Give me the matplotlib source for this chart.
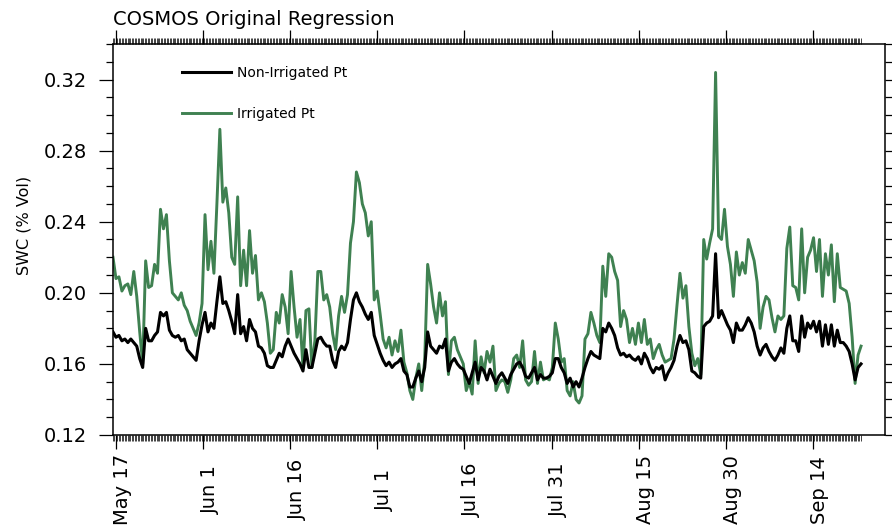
import matplotlib
matplotlib.use('Agg')
import matplotlib.pyplot as plt
import matplotlib.transforms as mtransforms
import numpy as np
import pandas as pd

# soil water content, about two readings per day
irrigated = [
    0.220, 0.208, 0.209, 0.201, 0.204, 0.205, 0.199, 0.212, 0.198, 0.178,
    0.160, 0.218, 0.203, 0.204, 0.216, 0.211, 0.247, 0.236, 0.244, 0.218,
    0.200, 0.198, 0.196, 0.200, 0.193, 0.190, 0.184, 0.180, 0.176, 0.183,
    0.194, 0.244, 0.213, 0.229, 0.211, 0.250, 0.292, 0.251, 0.259, 0.245,
    0.220, 0.216, 0.254, 0.204, 0.224, 0.204, 0.235, 0.211, 0.221, 0.196,
    0.200, 0.195, 0.183, 0.166, 0.168, 0.189, 0.183, 0.199, 0.192, 0.177,
    0.212, 0.192, 0.175, 0.185, 0.158, 0.190, 0.191, 0.158, 0.173, 0.212,
    0.212, 0.196, 0.199, 0.192, 0.177, 0.168, 0.187, 0.198, 0.189, 0.199,
    0.228, 0.240, 0.268, 0.262, 0.250, 0.245, 0.232, 0.240, 0.196, 0.201,
    0.188, 0.174, 0.169, 0.175, 0.165, 0.173, 0.167, 0.179, 0.161, 0.155,
    0.145, 0.140, 0.152, 0.160, 0.145, 0.162, 0.216, 0.205, 0.192, 0.183,
    0.200, 0.187, 0.195, 0.154, 0.173, 0.175, 0.168, 0.164, 0.160, 0.145,
    0.150, 0.143, 0.173, 0.149, 0.164, 0.155, 0.167, 0.161, 0.170, 0.145,
    0.149, 0.151, 0.150, 0.144, 0.151, 0.163, 0.165, 0.158, 0.173, 0.151,
    0.148, 0.150, 0.167, 0.149, 0.161, 0.151, 0.152, 0.151, 0.158, 0.183,
    0.174, 0.161, 0.163, 0.145, 0.142, 0.150, 0.140, 0.138, 0.142, 0.174,
    0.177, 0.189, 0.183, 0.176, 0.172, 0.215, 0.198, 0.222, 0.220, 0.212,
    0.207, 0.181, 0.190, 0.185, 0.172, 0.180, 0.171, 0.183, 0.172, 0.185,
    0.171, 0.174, 0.163, 0.168, 0.171, 0.165, 0.161, 0.162, 0.163, 0.174,
    0.193, 0.211, 0.197, 0.204, 0.181, 0.166, 0.159, 0.163, 0.154, 0.230,
    0.219, 0.228, 0.236, 0.324, 0.232, 0.230, 0.247, 0.226, 0.216, 0.198,
    0.223, 0.210, 0.217, 0.211, 0.230, 0.224, 0.218, 0.206, 0.180, 0.192,
    0.198, 0.196, 0.186, 0.178, 0.187, 0.185, 0.187, 0.225, 0.237, 0.204,
    0.203, 0.196, 0.236, 0.200, 0.220, 0.224, 0.231, 0.212, 0.230, 0.198,
    0.222, 0.210, 0.227, 0.195, 0.222, 0.203, 0.202, 0.201, 0.194, 0.175,
    0.149, 0.165, 0.170,
]

non_irrigated = [
    0.178, 0.175, 0.176, 0.173, 0.174, 0.172, 0.174, 0.172, 0.170, 0.163,
    0.158, 0.180, 0.173, 0.173, 0.176, 0.178, 0.189, 0.187, 0.189, 0.179,
    0.176, 0.175, 0.176, 0.173, 0.174, 0.168, 0.166, 0.164, 0.162, 0.173,
    0.182, 0.189, 0.178, 0.183, 0.180, 0.195, 0.209, 0.194, 0.195, 0.190,
    0.184, 0.177, 0.199, 0.177, 0.181, 0.173, 0.185, 0.180, 0.178, 0.170,
    0.169, 0.166, 0.159, 0.158, 0.158, 0.162, 0.166, 0.164, 0.170, 0.174,
    0.170, 0.166, 0.163, 0.160, 0.156, 0.168, 0.158, 0.158, 0.166, 0.174,
    0.175, 0.172, 0.170, 0.170, 0.162, 0.158, 0.167, 0.170, 0.168, 0.172,
    0.185, 0.196, 0.200, 0.195, 0.192, 0.188, 0.185, 0.189, 0.176, 0.171,
    0.166, 0.162, 0.159, 0.161, 0.158, 0.160, 0.161, 0.163, 0.156, 0.154,
    0.147, 0.147, 0.152, 0.156, 0.150, 0.158, 0.178, 0.170, 0.168, 0.166,
    0.170, 0.169, 0.174, 0.156, 0.161, 0.163, 0.160, 0.158, 0.157, 0.153,
    0.149, 0.155, 0.161, 0.151, 0.158, 0.156, 0.151, 0.157, 0.153, 0.149,
    0.153, 0.155, 0.152, 0.149, 0.154, 0.157, 0.160, 0.161, 0.158, 0.153,
    0.152, 0.155, 0.158, 0.151, 0.154, 0.152, 0.152, 0.153, 0.155, 0.163,
    0.163, 0.158, 0.155, 0.149, 0.152, 0.147, 0.150, 0.147, 0.152, 0.158,
    0.163, 0.167, 0.165, 0.164, 0.163, 0.180, 0.178, 0.183, 0.180, 0.176,
    0.169, 0.165, 0.166, 0.164, 0.165, 0.163, 0.162, 0.164, 0.160, 0.166,
    0.163, 0.158, 0.155, 0.158, 0.157, 0.159, 0.151, 0.155, 0.158, 0.162,
    0.170, 0.176, 0.172, 0.173, 0.168, 0.156, 0.155, 0.153, 0.152, 0.181,
    0.183, 0.184, 0.187, 0.222, 0.186, 0.190, 0.186, 0.182, 0.179, 0.172,
    0.183, 0.179, 0.179, 0.182, 0.186, 0.183, 0.178, 0.170, 0.165, 0.169,
    0.171, 0.167, 0.164, 0.162, 0.165, 0.169, 0.166, 0.180, 0.187, 0.173,
    0.173, 0.167, 0.187, 0.175, 0.183, 0.180, 0.184, 0.178, 0.184, 0.170,
    0.182, 0.171, 0.182, 0.170, 0.179, 0.172, 0.172, 0.170, 0.167, 0.160,
    0.151, 0.158, 0.160,
]

start = '2012-05-16 12:00'
end = '2012-09-22 07:00'
x_end = '2012-09-26 10:00'
tick_dates = ['2012-05-17', '2012-06-01', '2012-06-16', '2012-07-01', '2012-07-16',
              '2012-07-31', '2012-08-15', '2012-08-30', '2012-09-14']
tick_labels = ['May 17', 'Jun 1', 'Jun 16', 'Jul 1', 'Jul 16',
               'Jul 31', 'Aug 15', 'Aug 30', 'Sep 14']
y_ticks = [0.12, 0.16, 0.20, 0.24, 0.28, 0.32]

times = pd.date_range(start, end, periods=len(irrigated))
minor_times = pd.date_range(start, end, freq='6h')

plt.rcParams['font.family'] = ['DejaVu Sans']

fig = plt.figure(figsize=(8.92, 5.31), dpi=100)
ax = fig.add_axes([113 / 892, 96 / 531, 772 / 892, 391 / 531])

ax.plot(times, irrigated, color='#3f8151', lw=2.1, label='Irrigated Pt', zorder=2)
ax.plot(times, non_irrigated, color='black', lw=2.2, label='Non-Irrigated Pt', zorder=3)

ax.set_xlim(pd.Timestamp(start), pd.Timestamp(x_end))
ax.set_ylim(0.12, 0.34)

ax.set_xticks(pd.to_datetime(tick_dates))
ax.set_xticklabels(tick_labels)
ax.set_xticks(minor_times, minor=True)
ax.set_yticks(y_ticks)
ax.set_yticklabels(['%.2f' % v for v in y_ticks])
ax.set_yticks(np.arange(0.12, 0.345, 0.01), minor=True)

ax.tick_params(axis='x', which='both', direction='out', top=True, bottom=True)
ax.tick_params(axis='x', which='major', length=10, width=0.9, pad=29.5, labelsize=14)
ax.tick_params(axis='x', which='minor', length=4.5, width=0.6, color='#222222')
ax.tick_params(axis='y', which='both', direction='out', left=True, right=True, width=0.9)
ax.tick_params(axis='y', which='major', length=10, pad=9, labelsize=14)
ax.tick_params(axis='y', which='minor', length=5)

for lbl in ax.get_xticklabels():
    lbl.set_rotation(90)
    lbl.set_va('center')
    lbl.set_ha('center')
    lbl.set_transform(lbl.get_transform()
                      + mtransforms.ScaledTranslation(0.07, 0, fig.dpi_scale_trans))

for s in ax.spines.values():
    s.set_linewidth(1.1)

handles, labels = ax.get_legend_handles_labels()
ax.legend(handles[::-1], labels[::-1], frameon=False, loc='upper left',
          bbox_to_anchor=(0.09, 0.945), handlelength=3.5, handletextpad=0.4,
          labelspacing=2.0, fontsize=10, borderpad=0, borderaxespad=0)

fig.text(113 / 892, 1 - 25 / 531, 'COSMOS Original Regression', fontsize=14,
         ha='left', va='baseline')
fig.text(24 / 892, 1 - 225 / 531, 'SWC (% Vol)', fontsize=11.5, rotation=90,
         ha='center', va='center')

fig.savefig('out.png', dpi=100)
